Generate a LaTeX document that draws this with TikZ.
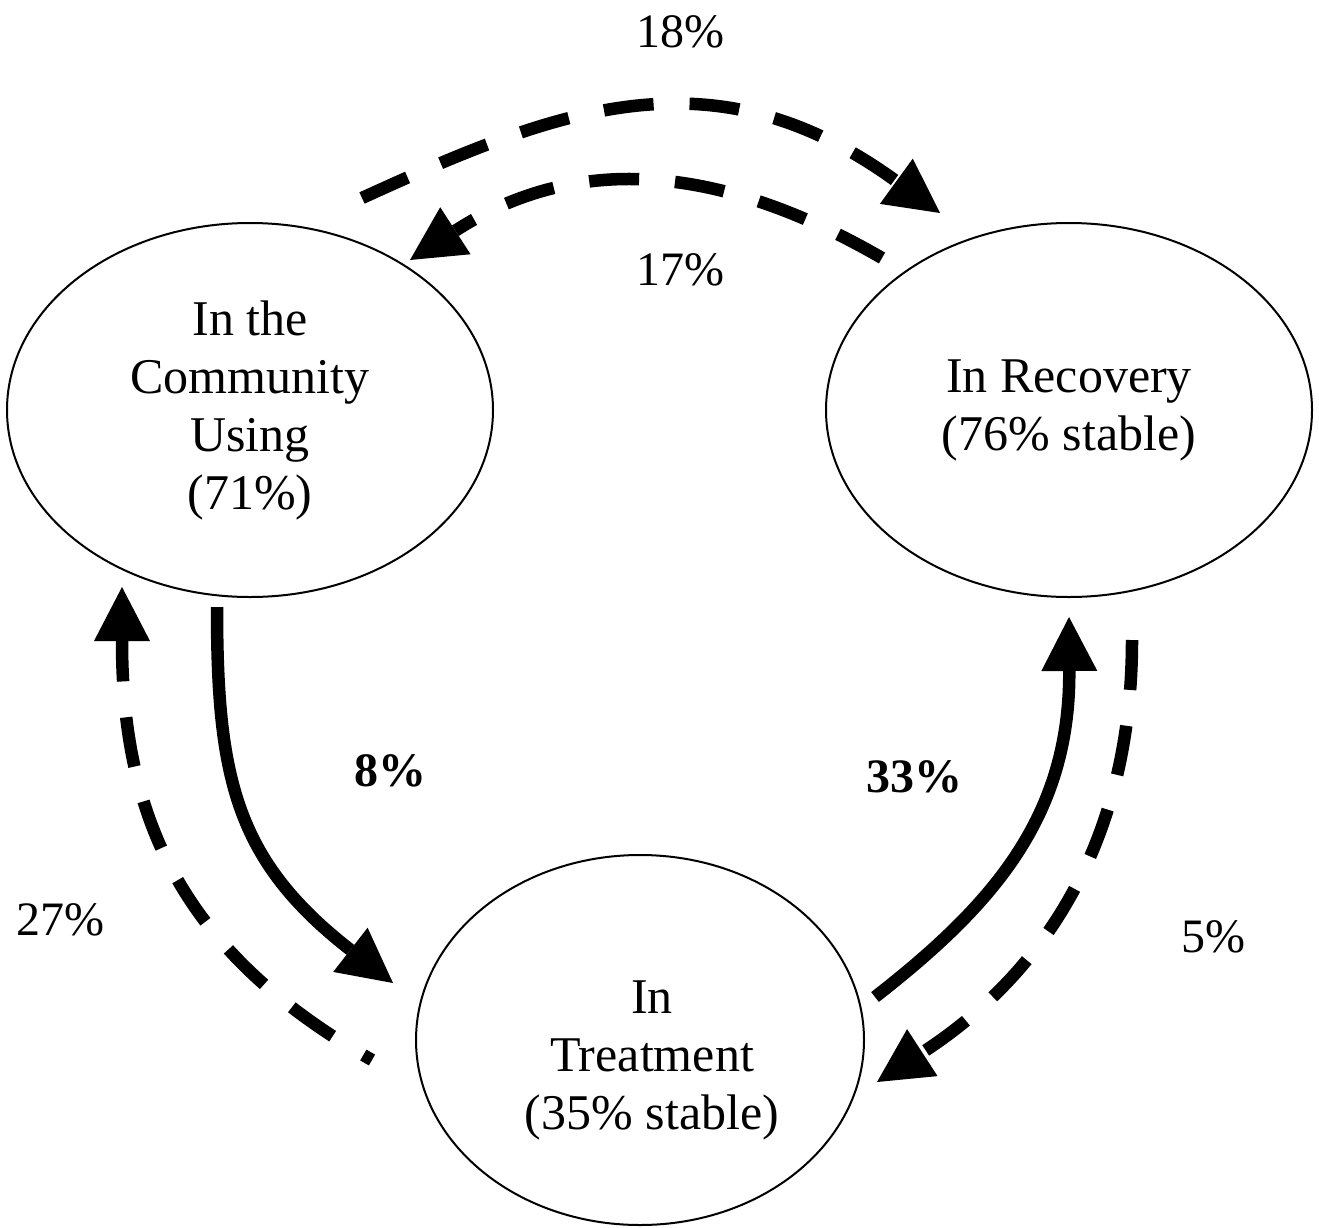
\documentclass[tikz,border=0pt]{standalone}
\usepackage{fontspec}
\setmainfont{Liberation Serif}
\usetikzlibrary{arrows.meta,shapes.geometric}
\begin{document}
\begin{tikzpicture}[x=1pt,y=-1pt,
  state/.style={draw, line width=2pt, ellipse, inner sep=0pt, align=center,
    font=\fontsize{50}{58}\selectfont},
  statetext/.style={align=center, inner sep=0pt, font=\fontsize{50}{58}\selectfont},
  flow/.style={line width=12.5pt, -{Triangle[length=54pt,width=56pt,line width=0pt]}},
  dashflow/.style={flow, dash pattern=on 50pt off 36pt},
  pct/.style={inner sep=0pt, font=\fontsize{48}{56}\selectfont},
  pctb/.style={inner sep=0pt, font=\fontsize{48}{56}\selectfont\bfseries}]
\useasboundingbox (0,0) rectangle (1319,1228);

% states
\node[state, minimum width=486pt, minimum height=374pt] (L) at (250,410)
  {In the\\Community\\Using\\(71\%)};
\node[state, minimum width=486pt, minimum height=374pt] (R) at (1069,410)
  {In Recovery\\(76\% stable)};
\node[state, minimum width=448pt, minimum height=370pt] (B) at (640,1040) {};
\node[statetext] (Bt) at (652,1060) {In\\Treatment\\(35\% stable)};

% free connector ends
\coordinate (a18s) at (362,198);
\coordinate (a18e) at (940,213);
\coordinate (a17s) at (882,258);
\coordinate (a17e) at (410,260);
\coordinate (a8s)  at (217,607);
\coordinate (a8e)  at (393,983);
\coordinate (a27s) at (372,1060);
\coordinate (a27e) at (122,587);
\coordinate (a33s) at (875,997);
\coordinate (a33e) at (1069,617);
\coordinate (a5s)  at (1132,640);
\coordinate (a5e)  at (877,1082);

% connectors
\draw[dashflow] (a18s) .. controls (559,108) and (713,48) .. (a18e);
\draw[dashflow] (a17s) .. controls (723,166) and (579,151) .. (a17e);
\draw[flow] (a8s) .. controls (217,777) and (235,860) .. (a8e);
\draw[dashflow, dash phase=40pt] (a27s) .. controls (181,952) and (122,817) .. (a27e);
\draw[flow] (a33s) .. controls (993,905) and (1070,817) .. (a33e);
\draw[dashflow] (a5s) .. controls (1132,840) and (1045,973) .. (a5e);

% labels
\node[pct] (p18) at (680,32) {18\%};
\node[pct] (p17) at (680,270) {17\%};
\node[pctb] (p8) at (390,771) {8\%};
\node[pct] (p27) at (60,920) {27\%};
\node[pctb] (p33) at (914,777) {33\%};
\node[pct] (p5) at (1213,937) {5\%};
\end{tikzpicture}
\end{document}
